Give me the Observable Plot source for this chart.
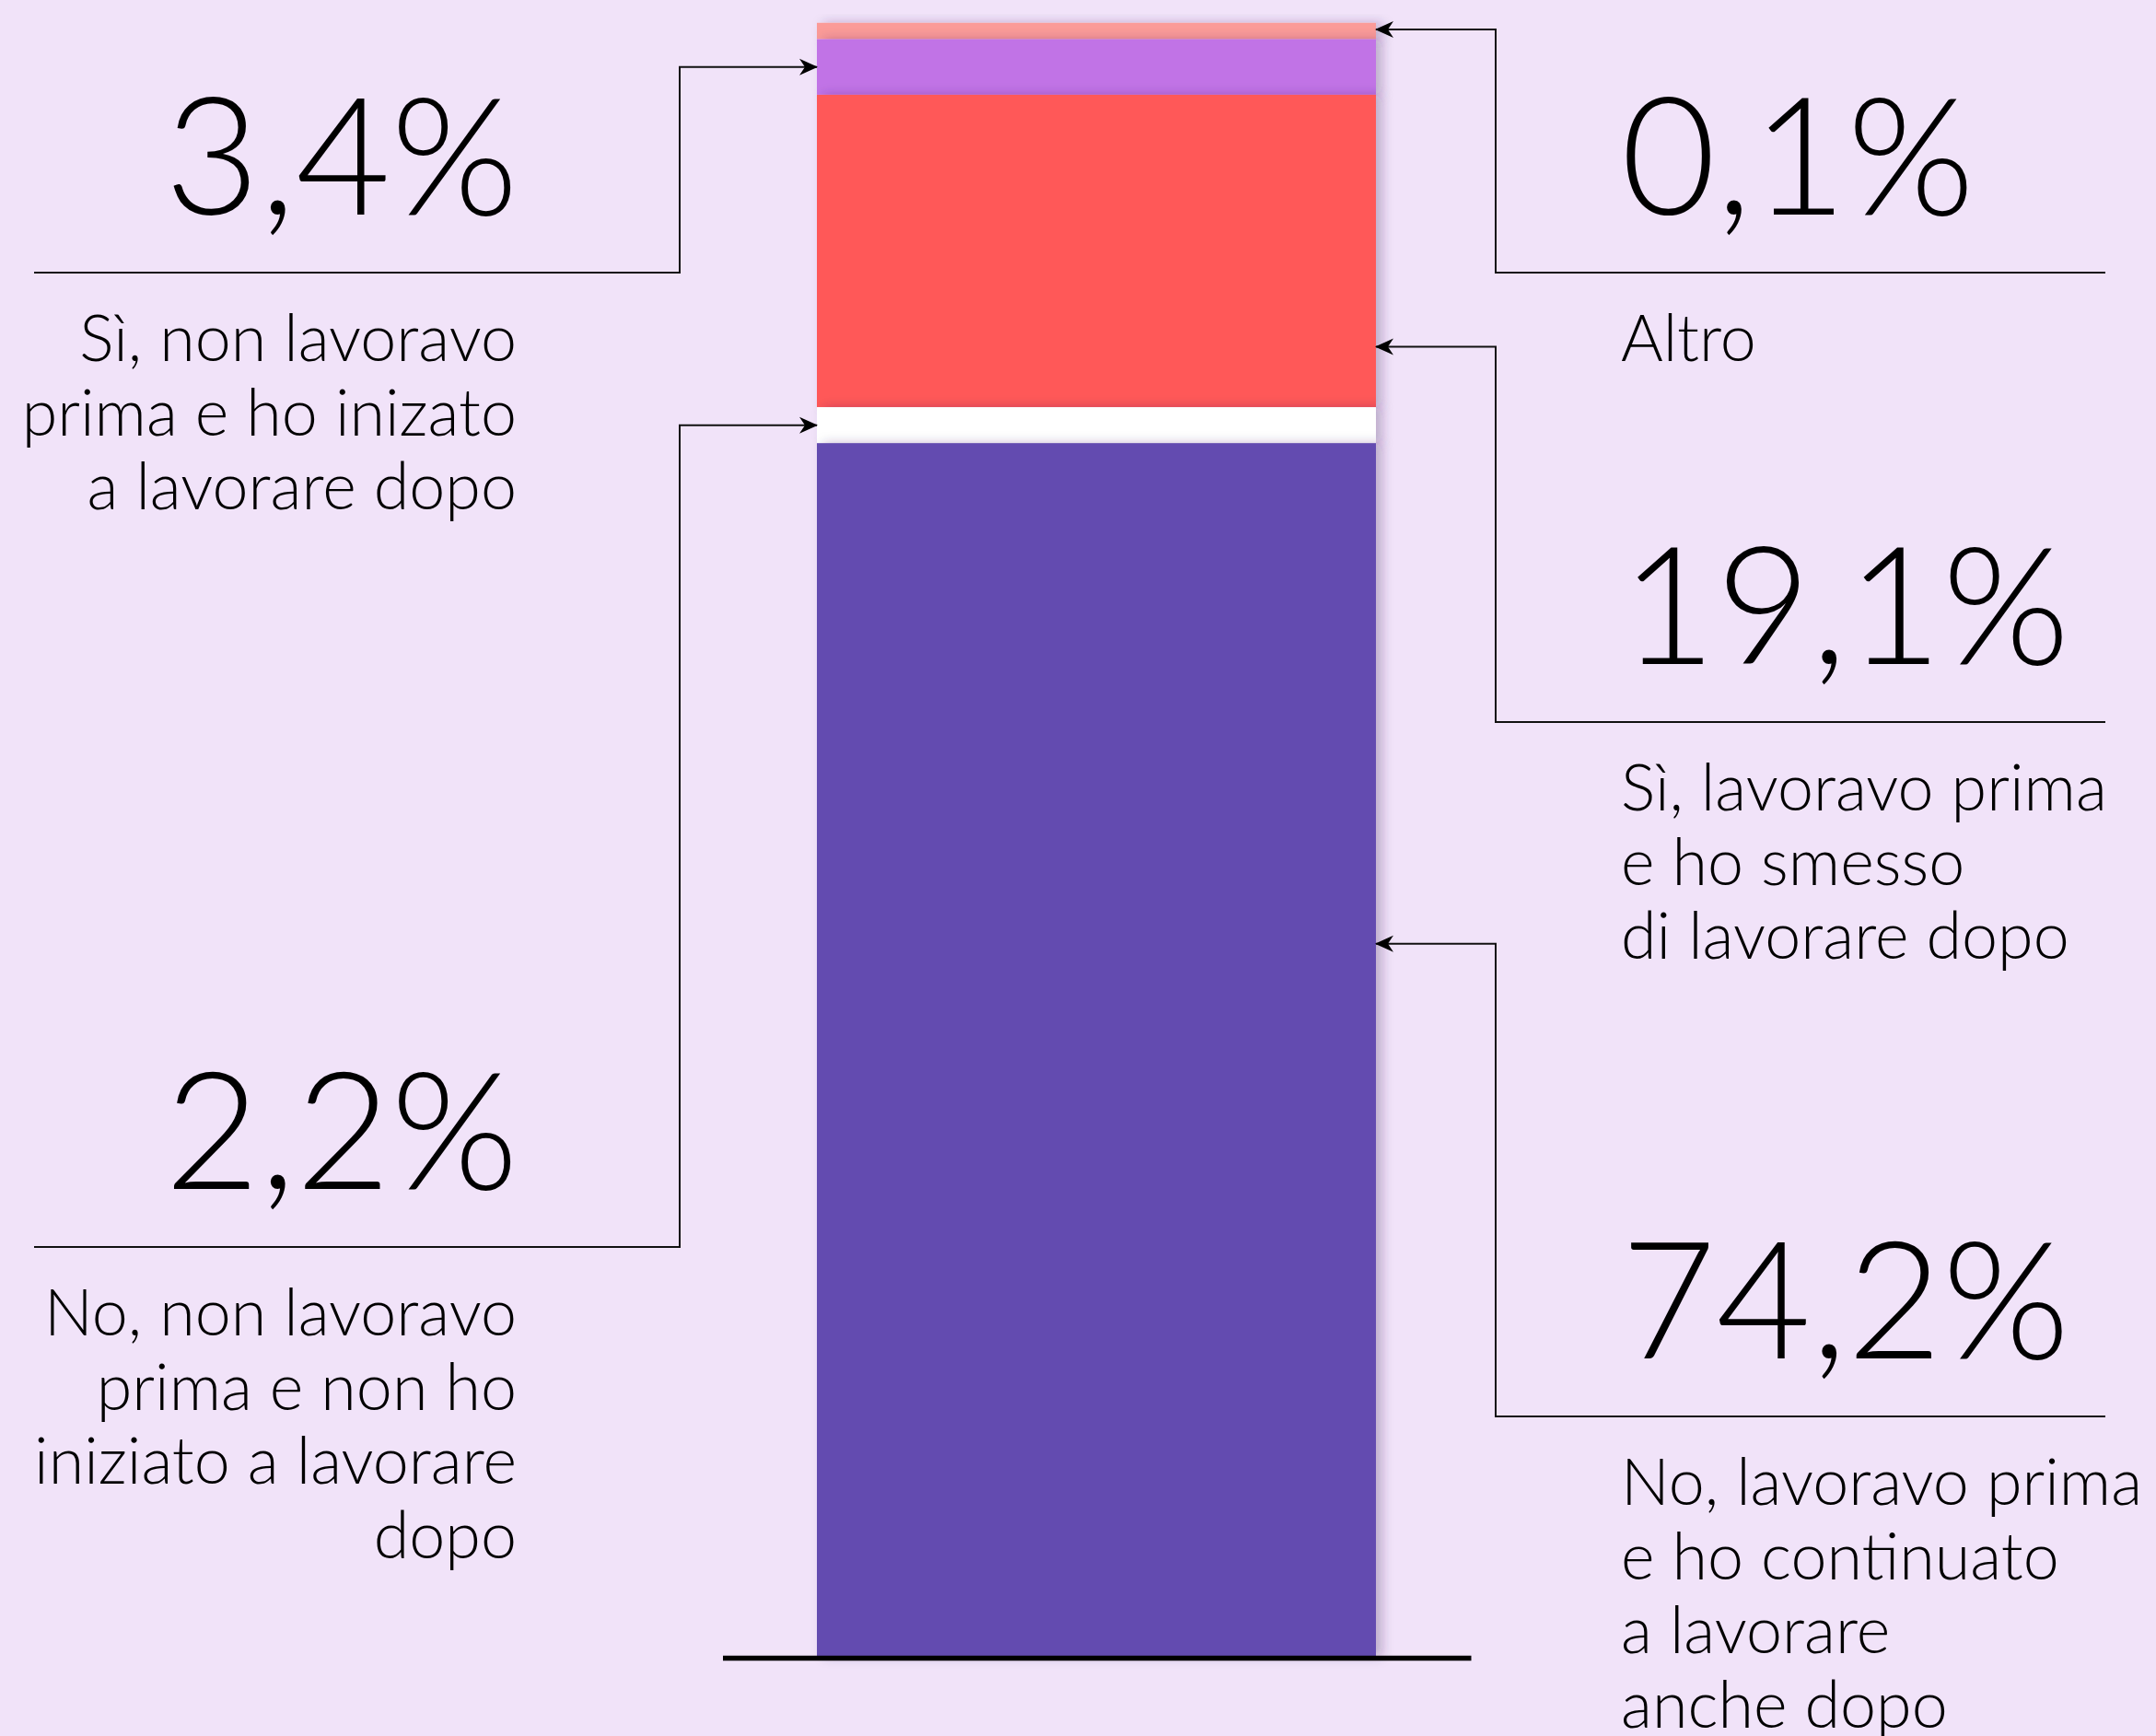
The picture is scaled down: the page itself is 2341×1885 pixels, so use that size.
<!DOCTYPE html>
<html>
<head>
<meta charset="utf-8">
<script src="https://cdn.jsdelivr.net/npm/d3@7"></script>
<script src="https://cdn.jsdelivr.net/npm/@observablehq/plot@0.6"></script>
<style>
html, body { margin: 0; padding: 0; background: #f1e3f9; }
#chart { width: 2341px; height: 1885px; overflow: hidden; }
</style>
</head>
<body>
<div id="chart"></div>
<script>
// ---- data (segments listed top to bottom) ----
const categories = [
  "Altro",
  "Sì, non lavoravo prima e ho inizato a lavorare dopo",
  "Sì, lavoravo prima e ho smesso di lavorare dopo",
  "No, non lavoravo prima e non ho iniziato a lavorare dopo",
  "No, lavoravo prima e ho continuato a lavorare anche dopo"
];
const valueLabels = ["0,1%", "3,4%", "19,1%", "2,2%", "74,2%"];
// segment heights (%)
const barShares = [1.0, 3.4, 19.1, 2.2, 74.2];
const colors = ["#fb9b98", "#c173e6", "#ff5858", "#ffffff", "#634bb0"];
const labelLines = [
  ["Altro"],
  ["Sì, non lavoravo", "prima e ho inizato", "a lavorare dopo"],
  ["Sì, lavoravo prima", "e ho smesso", "di lavorare dopo"],
  ["No, non lavoravo", "prima e non ho", "iniziato a lavorare", "dopo"],
  ["No, lavoravo prima", "e ho continuato", "a lavorare", "anche dopo"]
];

// ---- annotation layout ----
const side = ["right", "left", "right", "left", "right"];
const arrowAt = [99.5, 97.2, 80.1, 75.3, 43.6];   // position on the bar (% axis) where each arrow points
const lineY = [296, 296, 784, 1354, 1538];        // px, rule under each big number
const layout = {
  leftLineStart: 37, leftElbow: 738, rightElbow: 1624, rightLineEnd: 2286,
  leftBigX: 563, leftLabelX: 561, rightTextX: 1760,
  bigSize: 178, labelSize: 70, labelLead: 80.5, bigOffset: -63, labelOffset: 96
};
const font = "Lato, 'Open Sans', sans-serif";

const table = categories.map((c, i) => ({category: c, share: barShares[i]}));

const plot = Plot.plot({
  width: 2341,
  height: 1885,
  marginTop: 23,
  marginBottom: 86,
  marginLeft: 887,
  marginRight: 846.5,
  x: {type: "band", domain: ["totale"], padding: 0, axis: null},
  y: {domain: [0, 100], axis: null},
  color: {domain: categories, range: colors},
  style: {background: "#f1e3f9", overflow: "visible", fontFamily: font},
  marks: [
    Plot.barY(table, {x: () => "totale", y: "share", fill: "category", reverse: true}),
    Plot.ruleY([0], {stroke: "#000", strokeWidth: 5.5, insetLeft: -102, insetRight: -103, dy: 1})
  ]
});

document.getElementById("chart").appendChild(plot);

const svg = d3.select(plot);
const yS = plot.scale("y");
const xS = plot.scale("x");
const barLeft = xS.apply("totale");
const barRight = barLeft + xS.bandwidth;

// defs: shadow filter + arrow marker
const defs = svg.insert("defs", ":first-child");
const f = defs.append("filter").attr("id", "segShadow")
  .attr("x", "-20%").attr("y", "-50%").attr("width", "140%").attr("height", "200%");
f.append("feDropShadow").attr("dx", 7).attr("dy", 0).attr("stdDeviation", 6)
  .attr("flood-color", "#3c1e5a").attr("flood-opacity", 0.28);
defs.append("marker").attr("id", "arrowHead")
  .attr("viewBox", "0 -10 20 20").attr("refX", 19).attr("refY", 0)
  .attr("markerWidth", 20).attr("markerHeight", 20).attr("markerUnits", "userSpaceOnUse")
  .attr("orient", "auto")
  .append("path").attr("d", "M0,-9L20,0L0,9L6,0Z").attr("fill", "#000");

// segments: draw top first so each lower segment casts its shadow on the one above
const barG = svg.select('g[aria-label="bar"]');
const rects = barG.selectAll("rect").nodes();
rects.sort((a, b) => (+a.getAttribute("y")) - (+b.getAttribute("y")));
rects.forEach(r => { r.setAttribute("filter", "url(#segShadow)"); barG.node().appendChild(r); });

const ann = svg.append("g").attr("class", "annotations");
categories.forEach((c, i) => {
  const ly = lineY[i];
  const ty = yS.apply(arrowAt[i]);
  const left = side[i] === "left";
  const d = left
    ? `M${layout.leftLineStart},${ly}H${layout.leftElbow}V${ty}H${barLeft}`
    : `M${layout.rightLineEnd},${ly}H${layout.rightElbow}V${ty}H${barRight}`;
  ann.append("path").attr("d", d).attr("fill", "none").attr("stroke", "#111")
    .attr("stroke-width", 2).attr("marker-end", "url(#arrowHead)");
  const anchor = left ? "end" : "start";
  ann.append("text").attr("x", left ? layout.leftBigX : layout.rightTextX).attr("y", ly + layout.bigOffset)
    .attr("text-anchor", anchor).attr("font-size", layout.bigSize)
    .attr("font-weight", 300).attr("font-family", font).attr("fill", "#000")
    .text(valueLabels[i]);
  const tx = left ? layout.leftLabelX : layout.rightTextX;
  const t = ann.append("text").attr("text-anchor", anchor).attr("font-size", layout.labelSize)
    .attr("font-weight", 300).attr("font-family", font).attr("fill", "#000");
  labelLines[i].forEach((line, k) => {
    t.append("tspan").attr("x", tx).attr("y", ly + layout.labelOffset + k * layout.labelLead).text(line);
  });
});
</script>
</body>
</html>
